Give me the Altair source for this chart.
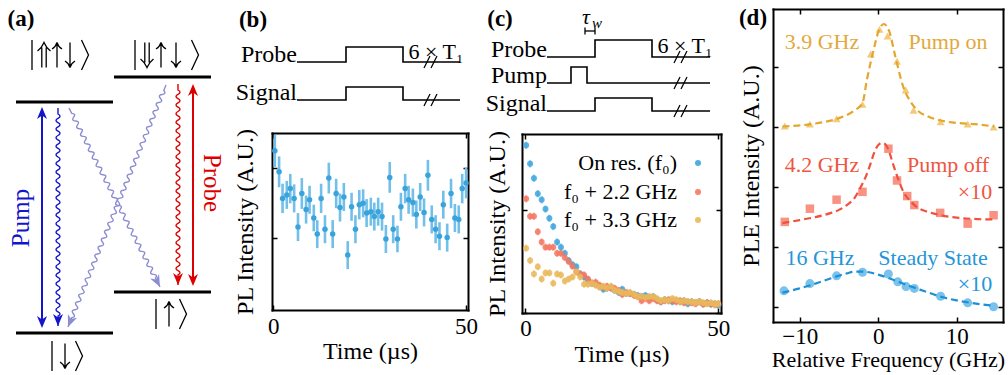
import math
import altair as alt
import pandas as pd

W, H = 1008, 375
SERIF = "Liberation Serif"

# ---------------- panel (b): PL vs time, probe only ----------------
B_TIME = [0.4, 1.5, 2.4, 3.5, 4.4, 5.4, 6.4, 7.4, 8.5, 9.4, 10.5, 11.4, 12.4, 13.4, 14.4,
          15.4, 16.3, 17.3, 18.3, 19.3, 20.3, 21.3, 22.3, 23.3, 24.2, 25.3, 26.2, 27.2, 28.2,
          29.2, 30.2, 31.1, 32.2, 33.1, 34.2, 35.1, 36.2, 37.1, 38.1, 39.1, 40.1, 41.1, 42.1,
          43.1, 44.1, 45.1, 46.1, 47.1, 48.1, 49.0, 50.0]
B_PL = [2.25, 1.95, 1.57, 1.62, 1.71, 1.57, 1.16, 1.64, 1.41, 1.55, 1.29, 1.06, 1.57, 1.13,
        1.86, 1.06, 1.64, 1.44, 1.59, 0.76, 1.45, 1.13, 1.48, 1.50, 1.36, 1.38, 1.31, 1.38,
        1.31, 0.99, 1.87, 1.13, 0.99, 1.45, 1.71, 1.55, 1.51, 1.34, 1.59, 1.37, 1.90, 1.27,
        1.13, 1.03, 1.48, 1.01, 1.64, 1.29, 1.27, 1.71, 1.79]
B_ERR = [0.23, 0.22, 0.21, 0.20, 0.21, 0.20, 0.20, 0.22, 0.20, 0.20, 0.19, 0.20, 0.21, 0.20,
         0.22, 0.20, 0.21, 0.20, 0.20, 0.20, 0.20, 0.20, 0.21, 0.20, 0.20, 0.20, 0.20, 0.20,
         0.20, 0.20, 0.22, 0.20, 0.19, 0.20, 0.21, 0.20, 0.20, 0.20, 0.20, 0.20, 0.22, 0.20,
         0.20, 0.20, 0.20, 0.20, 0.21, 0.20, 0.20, 0.21, 0.22]

# ---------------- panel (c): PL vs time after pump ----------------
C_TIME = [0.17, 1.2, 2.2, 3.2, 4.2, 5.2, 6.2, 7.2, 8.2, 9.2, 10.2, 11.2, 12.2, 13.2, 14.2,
          15.2, 16.2, 17.2, 18.2, 19.2, 20.2, 21.1, 22.2, 23.1, 24.2, 25.1, 26.2, 27.1, 28.2,
          29.1, 30.1, 31.1, 32.1, 33.1, 34.1, 35.1, 36.1, 37.1, 38.1, 39.1, 40.1, 41.1, 42.1,
          43.1, 44.1, 45.1, 46.1, 47.1, 48.1, 49.1, 50.0]
C_ON = [1.63, 1.45, 1.31, 1.16, 1.10, 1.01, 0.92, 0.84, 0.69, 0.64, 0.58, 0.51, 0.47, 0.45,
        0.38, 0.35, 0.32, 0.29, 0.28, 0.26, 0.23, 0.24, 0.25, 0.22, 0.20, 0.23, 0.19, 0.19,
        0.18, 0.17, 0.16, 0.17, 0.15, 0.16, 0.13, 0.11, 0.13, 0.12, 0.11, 0.12, 0.11, 0.12,
        0.09, 0.11, 0.10, 0.11, 0.09, 0.10, 0.085, 0.09, 0.075]
C_22 = [1.11, 0.94, 0.94, 0.79, 0.69, 0.64, 0.64, 0.64, 0.58, 0.58, 0.54, 0.50, 0.455, 0.40,
        0.38, 0.37, 0.33, 0.29, 0.30, 0.27, 0.25, 0.26, 0.24, 0.24, 0.22, 0.18, 0.20, 0.19,
        0.17, 0.16, 0.12, 0.14, 0.12, 0.14, 0.12, 0.11, 0.12, 0.13, 0.12, 0.11, 0.12, 0.10,
        0.11, 0.10, 0.09, 0.11, 0.085, 0.10, 0.09, 0.08, 0.09]
C_33 = [0.63, 0.51, 0.38, 0.45, 0.33, 0.39, 0.39, 0.29, 0.38, 0.37, 0.31, 0.33, 0.35, 0.40,
        0.35, 0.28, 0.28, 0.29, 0.27, 0.25, 0.26, 0.24, 0.26, 0.22, 0.21, 0.20, 0.19, 0.20,
        0.18, 0.16, 0.16, 0.15, 0.16, 0.16, 0.14, 0.12, 0.13, 0.12, 0.14, 0.13, 0.11, 0.12,
        0.11, 0.11, 0.10, 0.11, 0.10, 0.09, 0.10, 0.085, 0.09]
C_ERR = 0.035
C_LABELS = ["On res. (f₀)", "f₀ + 2.2 GHz", "f₀ + 3.3 GHz"]

# ---------------- panel (d): PLE spectra ----------------
D_ON_F = [-11.9, -8.7, -5.3, -2.0, -0.94, 0.17, 1.2, 2.4, 3.5, 4.5, 7.95, 11.4, 14.7]
D_ON = [3.02, 3.05, 3.14, 3.38, 4.22, 4.63, 4.52, 4.10, 3.62, 3.28, 3.09, 3.05, 3.00]
D_ON_FIT_F = [-12.2, -8.0, -5.0, -3.0, -2.0, -1.45, -0.6, 0.0, 0.7, 1.4, 2.2, 3.2, 4.0,
              5.0, 6.5, 8.0, 10.0, 12.3, 14.8]
D_ON_FIT = [3.01, 3.06, 3.15, 3.28, 3.40, 3.78, 4.28, 4.58, 4.72, 4.60, 4.17, 3.67, 3.45,
            3.28, 3.17, 3.11, 3.07, 3.05, 3.01]
D_OFF_F = [-11.9, -8.7, -5.3, -2.0, 1.3, 2.4, 3.7, 4.6, 7.9, 11.4, 14.7]
D_OFF = [1.42, 1.64, 1.79, 1.92, 2.64, 2.11, 1.85, 1.70, 1.57, 1.39, 1.53]
D_OFF_FIT_F = [-12.2, -10.0, -8.0, -6.0, -5.0, -4.0, -3.0, -2.3, -1.5, -1.0, -0.5, 0.0, 0.5,
               1.0, 1.5, 2.0, 2.5, 3.3, 4.0, 5.0, 6.5, 8.0, 10.0, 12.0, 14.8]
D_OFF_FIT = [1.40, 1.45, 1.50, 1.57, 1.62, 1.70, 1.82, 1.98, 2.20, 2.38, 2.58, 2.70, 2.74,
             2.70, 2.55, 2.34, 2.15, 1.90, 1.78, 1.66, 1.58, 1.53, 1.49, 1.47, 1.46]
D_SS_F = [-12.0, -8.7, -5.3, -2.0, 1.3, 2.5, 3.55, 4.6, 7.95, 11.4, 14.7]
D_SS = [0.27, 0.39, 0.52, 0.58, 0.55, 0.42, 0.34, 0.31, 0.18, 0.07, 0.005]
D_SS_FIT_F = [-12.2, -10.0, -8.0, -6.0, -4.0, -3.0, -2.0, 0.0, 2.0, 4.0, 6.0, 8.0, 10.0,
              12.0, 14.8]
D_SS_FIT = [0.24, 0.31, 0.39, 0.48, 0.56, 0.59, 0.59, 0.54, 0.45, 0.35, 0.26, 0.17, 0.11,
            0.065, 0.02]

# ---------------- panel frames (scale domains / pixel ranges) ----------------
B_FR = dict(xdom=[-0.34, 50.5], xrng=[272, 468], ydom=[-0.024, 2.504], yrng=[310, 133])
C_FR = dict(xdom=[-0.9, 50.7], xrng=[522, 721], ydom=[0.0, 1.74], yrng=[313, 134])
D_FR = dict(xdom=[-13.4, 15.9], xrng=[773, 1003], ydom=[-0.25, 4.97], yrng=[322, 9])

# ---------------- schematic layout (canvas pixel space) ----------------
A_LEVELS = [(16, 113, 102), (114, 211, 77), (114, 211, 292), (16, 113, 333)]
# ket glyphs: (glyph, x, y)
A_KET_GLYPHS = [
    ("bar", 32, 55), ("dup", 44, 55), ("up", 57, 55), ("down", 70, 55), ("ket", 85, 55),
    ("bar", 135, 55), ("ddown", 147, 55), ("up", 161, 55), ("down", 176, 55), ("ket", 195, 55),
    ("bar", 156, 314), ("up", 169, 314), ("ket", 183, 314),
    ("bar", 52, 356), ("down", 65, 356), ("ket", 79, 356),
]
A_STRAIGHT = [(42, 107, 328, "#1414cc"), (193, 84, 286, "#dd0000")]
A_WAVES = [(58, 108, 58, 326, "#1414cc"), (178, 84, 178, 285, "#dd0000"),
           (69, 108, 160, 287, "#8c8cd2"), (166, 85, 68, 327, "#8c8cd2")]
PANEL_TAGS = [("(a)", 21, 19), ("(b)", 253, 20), ("(c)", 500, 19), ("(d)", 753, 18)]

PULSES = {
    "b_probe": [(297, 62), (346, 62), (346, 47), (403, 47), (403, 62), (460, 62)],
    "b_signal": [(297, 100), (346, 100), (346, 87), (403, 87), (403, 100), (460, 100)],
    "c_probe": [(547, 57), (595, 57), (595, 40), (652, 40), (652, 57), (710, 57)],
    "c_pump": [(547, 83), (571, 83), (571, 67), (587, 67), (587, 83), (710, 83)],
    "c_signal": [(547, 111), (595, 111), (595, 98), (652, 98), (652, 111), (710, 111)],
}
PULSE_NAMES = [("Probe", 297, 62), ("Signal", 297, 100), ("Probe", 547, 57),
               ("Pump", 547, 83), ("Signal", 547, 111)]
BREAKS = [(427, 62), (434, 62), (427, 100), (434, 100), (677, 57), (684, 57),
          (677, 83), (684, 83), (677, 111), (684, 111)]
T1_LABELS = [("6 × T₁", 436, 59), ("6 × T₁", 685, 53)]

D_NOTES = [("3.9 GHz", 822, 42, "#e3a93a"), ("Pump on", 948, 42, "#e3a93a"),
           ("4.2 GHz", 822, 165, "#f0553f"), ("Pump off", 948, 165, "#f0553f"),
           ("×10", 975, 192, "#f0553f"),
           ("16 GHz", 820, 258, "#2496d8"), ("Steady State", 933, 258, "#2496d8"),
           ("×10", 975, 284, "#2496d8")]


def lin(dom, rng):
    return alt.Scale(domain=dom, range=rng, nice=False, zero=False)


def CX(f="x"):
    return alt.X(f"{f}:Q", scale=lin([0, W], [0, W]), axis=None)


def CY(f="y"):
    return alt.Y(f"{f}:Q", scale=lin([0, H], [0, H]), axis=None)


AX = dict(grid=False, labelFont=SERIF, labelFontSize=23, labelColor="black",
          titleFont=SERIF, titleFontWeight="normal", titleColor="black",
          domainColor="black", tickColor="black", domainWidth=2, tickWidth=1.5,
          domainCap="square", labelFlush=False, labelOverlap=False)


def frame_layers(fr, xticks, yticks, xtitle, ytitle, lab_pad, xt_pad, yt_pad,
                 xt_size, yt_size):
    xl, xr = fr["xrng"]
    yb, yt = fr["yrng"]
    df = pd.DataFrame({"x": [fr["xdom"][0]], "y": [fr["ydom"][0]]})
    xs = lin(fr["xdom"], fr["xrng"])
    ys = lin(fr["ydom"], fr["yrng"])
    base = alt.Chart(df).mark_point(opacity=0)
    text_axes = base.encode(
        x=alt.X("x:Q", scale=xs, axis=alt.Axis(
            orient="bottom", offset=yb - H, values=xticks, domain=False, ticks=False,
            tickSize=0, labelPadding=lab_pad, title=xtitle, titlePadding=xt_pad,
            titleFontSize=xt_size, minExtent=0, **AX)),
        y=alt.Y("y:Q", scale=ys, axis=alt.Axis(
            orient="left", offset=-xl, domain=False, ticks=False, tickSize=0, labels=False,
            title=ytitle, titlePadding=yt_pad, titleFontSize=yt_size, minExtent=0, **AX)),
    )
    low_left = base.encode(
        x=alt.X("x:Q", scale=xs, axis=alt.Axis(
            orient="top", offset=-yb, values=xticks, labels=False, tickSize=5, title="",
            minExtent=0, **AX)),
        y=alt.Y("y:Q", scale=ys, axis=alt.Axis(
            orient="right", offset=xl - W, values=yticks, labels=False, tickSize=5,
            title="", minExtent=0, **AX)),
    )
    top_right = base.encode(
        x=alt.X("x:Q", scale=xs, axis=alt.Axis(
            orient="bottom", offset=yt - H, values=xticks, labels=False, tickSize=5,
            title="", minExtent=0, **AX)),
        y=alt.Y("y:Q", scale=ys, axis=alt.Axis(
            orient="left", offset=-xr, values=yticks, labels=False, tickSize=5, title="",
            minExtent=0, **AX)),
    )
    return [text_axes, low_left, top_right]


def wave_path(length, lead=6.0, tail=10.0, period=8.6, amp=2.0):
    body = length - lead - tail
    n = max(2, int(round(body / (period / 2.0))))
    h = body / n
    k = 0.01
    parts = ["M0,0", f"L0,{lead * k:.4f}"]
    for i in range(n):
        sg = 1 if i % 2 == 0 else -1
        parts.append(f"q{sg * 2 * amp * k:.4f},{h / 2 * k:.4f} 0,{h * k:.4f}")
    parts.append(f"L0,{length * k:.4f}")
    return " ".join(parts)


ARROW_HEAD = "M0,0 L-0.05,-0.12 L0,-0.085 L0.05,-0.12 Z"
# glyph outlines for the kets (units of 100 px, drawn as strokes)
GLYPHS = {
    "bar": "M0,-0.15 L0,0.15",
    "ket": "M-0.035,-0.15 L0.035,0 L-0.035,0.15",
    "up": "M0,0.125 L0,-0.125 M-0.05,-0.06 Q-0.01,-0.085 0,-0.125 Q0.01,-0.085 0.05,-0.06",
    "down": "M0,-0.125 L0,0.125 M-0.05,0.06 Q-0.01,0.085 0,0.125 Q0.01,0.085 0.05,0.06",
    "dup": "M-0.022,0.125 L-0.022,-0.075 M0.022,0.125 L0.022,-0.075 "
           "M-0.065,-0.04 Q-0.02,-0.075 0,-0.125 Q0.02,-0.075 0.065,-0.04",
    "ddown": "M-0.022,-0.125 L-0.022,0.075 M0.022,-0.125 L0.022,0.075 "
             "M-0.065,0.04 Q-0.02,0.075 0,0.125 Q0.02,0.075 0.065,0.04",
}

layers = []

# ================= panel (a) =================
lv = pd.DataFrame(A_LEVELS, columns=["x", "x2", "y"])
layers.append(alt.Chart(lv).mark_rule(color="black", strokeWidth=3).encode(
    x=CX(), x2=alt.X2("x2:Q"), y=CY()))

heads = []
st = pd.DataFrame([(x, y0 + 6, y1 - 6, c) for x, y0, y1, c in A_STRAIGHT],
                  columns=["x", "y", "y2", "c"])
layers.append(alt.Chart(st).mark_rule(strokeWidth=2).encode(
    x=CX(), y=CY(), y2=alt.Y2("y2:Q"), color=alt.Color("c:N", scale=None)))
for x, y0, y1, c in A_STRAIGHT:
    heads.append((x, y0, 180.0, c))
    heads.append((x, y1, 0.0, c))

for x0, y0, x1, y1, c in A_WAVES:
    L = math.hypot(x1 - x0, y1 - y0)
    ang = math.degrees(math.atan2(-(x1 - x0), y1 - y0)) % 360
    dfw = pd.DataFrame({"x": [x0], "y": [y0]})
    layers.append(alt.Chart(dfw).mark_point(
        shape=wave_path(L), size=40000, angle=ang, filled=False, color=c,
        strokeWidth=1.4, opacity=1).encode(x=CX(), y=CY()))
    heads.append((x1, y1, ang, c))

hd = pd.DataFrame(heads, columns=["x", "y", "ang", "c"])
layers.append(alt.Chart(hd).mark_point(shape=ARROW_HEAD, size=40000, filled=True,
                                       opacity=1).encode(
    x=CX(), y=CY(), angle=alt.Angle("ang:Q", scale=None),
    color=alt.Color("c:N", scale=None)))

kg = pd.DataFrame([(GLYPHS[g], x, y) for g, x, y in A_KET_GLYPHS], columns=["p", "x", "y"])
layers.append(alt.Chart(kg).mark_point(size=40000, filled=False, color="black",
                                       strokeWidth=1.3, opacity=1).encode(
    x=CX(), y=CY(), shape=alt.Shape("p:N", scale=None)))

layers.append(alt.Chart(pd.DataFrame([("Pump", 21, 218)], columns=["t", "x", "y"]))
              .mark_text(font=SERIF, fontSize=25, angle=270, baseline="middle",
                         color="#1414cc").encode(x=CX(), y=CY(), text="t:N"))
layers.append(alt.Chart(pd.DataFrame([("Probe", 212, 183)], columns=["t", "x", "y"]))
              .mark_text(font=SERIF, fontSize=25, angle=90, baseline="middle",
                         color="#dd0000").encode(x=CX(), y=CY(), text="t:N"))

tags = pd.DataFrame(PANEL_TAGS, columns=["t", "x", "y"])
layers.append(alt.Chart(tags).mark_text(font=SERIF, fontSize=23, fontWeight="bold",
                                        baseline="middle", color="black").encode(
    x=CX(), y=CY(), text="t:N"))

# ================= pulse schematics (b), (c) =================
prow = []
for name, pts in PULSES.items():
    for i, (x, y) in enumerate(pts):
        prow.append((name, i, x, y))
pdf = pd.DataFrame(prow, columns=["trace", "i", "x", "y"])
layers.append(alt.Chart(pdf).mark_line(color="black", strokeWidth=1.6).encode(
    x=CX(), y=CY(), detail="trace:N", order="i:Q"))
br = pd.DataFrame([(x - 3, y + 6, x + 3, y - 6) for x, y in BREAKS],
                  columns=["x", "y", "x2", "y2"])
layers.append(alt.Chart(br).mark_rule(color="black", strokeWidth=1.3).encode(
    x=CX(), y=CY(), x2=alt.X2("x2:Q"), y2=alt.Y2("y2:Q")))
pn = pd.DataFrame(PULSE_NAMES, columns=["t", "x", "y"])
layers.append(alt.Chart(pn).mark_text(font=SERIF, fontSize=24, align="right",
                                      baseline="alphabetic", color="black").encode(
    x=CX(), y=CY(), text="t:N"))
t1 = pd.DataFrame(T1_LABELS, columns=["t", "x", "y"])
layers.append(alt.Chart(t1).mark_text(font=SERIF, fontSize=22, baseline="alphabetic",
                                      color="black").encode(x=CX(), y=CY(), text="t:N"))
layers.append(alt.Chart(pd.DataFrame([("τ", 586, 24)], columns=["t", "x", "y"]))
              .mark_text(font=SERIF, fontSize=22, fontStyle="italic", baseline="alphabetic",
                         color="black").encode(x=CX(), y=CY(), text="t:N"))
layers.append(alt.Chart(pd.DataFrame([("w", 597, 28)], columns=["t", "x", "y"]))
              .mark_text(font=SERIF, fontSize=15, fontStyle="italic", baseline="alphabetic",
                         color="black").encode(x=CX(), y=CY(), text="t:N"))
tw = pd.DataFrame([(585, 31, 595, 31), (585, 27.5, 585, 34.5), (595, 27.5, 595, 34.5)],
                  columns=["x", "y", "x2", "y2"])
layers.append(alt.Chart(tw).mark_rule(color="black", strokeWidth=1.3).encode(
    x=CX(), y=CY(), x2=alt.X2("x2:Q"), y2=alt.Y2("y2:Q")))

# ================= panel (b) data =================
bdf = pd.DataFrame({"t": B_TIME, "v": B_PL, "e": B_ERR})
bdf["lo"] = bdf["v"] - bdf["e"]
bdf["hi"] = bdf["v"] + bdf["e"]
bx = lin(B_FR["xdom"], B_FR["xrng"])
by = lin(B_FR["ydom"], B_FR["yrng"])
layers.append(alt.Chart(bdf).mark_rule(color="#72bfe9", strokeWidth=2.6).encode(
    x=alt.X("t:Q", scale=bx, axis=None), y=alt.Y("lo:Q", scale=by, axis=None),
    y2=alt.Y2("hi:Q")))
layers.append(alt.Chart(bdf).mark_circle(color="#3aa3dc", size=30, opacity=1).encode(
    x=alt.X("t:Q", scale=bx, axis=None), y=alt.Y("v:Q", scale=by, axis=None)))
layers += frame_layers(B_FR, [0, 50], [1, 2], "Time (µs)", "PL Intensity (A.U.)",
                       5, 1, 15, 24, 24)

# ================= panel (c) data =================
cx_ = lin(C_FR["xdom"], C_FR["xrng"])
cy_ = lin(C_FR["ydom"], C_FR["yrng"])
C_COLORS = ["#3da6de", "#f47762", "#eab95a"]
for vals, col in zip([C_ON, C_22, C_33], C_COLORS):
    cdf = pd.DataFrame({"t": C_TIME, "v": vals})
    cdf["lo"] = cdf["v"] - C_ERR
    cdf["hi"] = cdf["v"] + C_ERR
    layers.append(alt.Chart(cdf).mark_rule(color=col, strokeWidth=2.2, opacity=0.6).encode(
        x=alt.X("t:Q", scale=cx_, axis=None), y=alt.Y("lo:Q", scale=cy_, axis=None),
        y2=alt.Y2("hi:Q")))
    layers.append(alt.Chart(cdf).mark_circle(color=col, size=36, opacity=0.85).encode(
        x=alt.X("t:Q", scale=cx_, axis=None), y=alt.Y("v:Q", scale=cy_, axis=None)))
layers += frame_layers(C_FR, [0, 50], [0, 1], "Time (µs)", "PL Intensity (A.U.)",
                       4, 2, 13, 24, 24)
LEG_Y = [163, 192, 220]
leg = pd.DataFrame({"t": C_LABELS, "x": [677] * 3, "y": LEG_Y, "c": C_COLORS,
                    "dx": [698] * 3})
layers.append(alt.Chart(leg).mark_text(font=SERIF, fontSize=22, align="right",
                                       baseline="middle", color="black").encode(
    x=CX(), y=CY(), text="t:N"))
layers.append(alt.Chart(leg).mark_circle(size=36, opacity=0.9).encode(
    x=CX("dx"), y=CY(), color=alt.Color("c:N", scale=None)))

# ================= panel (d) data =================
dx_ = lin(D_FR["xdom"], D_FR["xrng"])
dy_ = lin(D_FR["ydom"], D_FR["yrng"])
D_SERIES = [
    (D_ON_F, D_ON, D_ON_FIT_F, D_ON_FIT, "triangle-up", 64, "#f0c163", "#e4a62c"),
    (D_OFF_F, D_OFF, D_OFF_FIT_F, D_OFF_FIT, "square", 72, "#f7806e", "#f0513c"),
    (D_SS_F, D_SS, D_SS_FIT_F, D_SS_FIT, "circle", 81, "#62b7e8", "#1d8fd4"),
]
for fx, fv, gx, gv, shp, sz, mc, lc in D_SERIES:
    pts = pd.DataFrame({"f": fx, "v": fv})
    fit = pd.DataFrame({"f": gx, "v": gv})
    layers.append(alt.Chart(pts).mark_point(shape=shp, size=sz, filled=True, color=mc,
                                            opacity=0.85).encode(
        x=alt.X("f:Q", scale=dx_, axis=None), y=alt.Y("v:Q", scale=dy_, axis=None)))
    layers.append(alt.Chart(fit).mark_line(color=lc, strokeWidth=2.2, strokeDash=[7, 4],
                                           interpolate="monotone").encode(
        x=alt.X("f:Q", scale=dx_, axis=None), y=alt.Y("v:Q", scale=dy_, axis=None)))
layers += frame_layers(D_FR, [-10, 0, 10], [0, 1, 2, 3, 4], "Relative Frequency (GHz)",
                       "PLE Intensity (A.U.)", 3, 1, 10, 22, 24)
notes = pd.DataFrame(D_NOTES, columns=["t", "x", "y", "c"])
layers.append(alt.Chart(notes).mark_text(font=SERIF, fontSize=22, baseline="middle").encode(
    x=CX(), y=CY(), text="t:N", color=alt.Color("c:N", scale=None)))

chart = alt.layer(*layers).resolve_scale(
    x="independent", y="independent"
).resolve_axis(
    x="independent", y="independent"
).properties(
    width=W, height=H, padding=0, background="white",
    autosize=alt.AutoSizeParams(type="none"),
).configure_view(stroke=None)

chart.save("out.html", embed_options={"renderer": "svg", "actions": False})
